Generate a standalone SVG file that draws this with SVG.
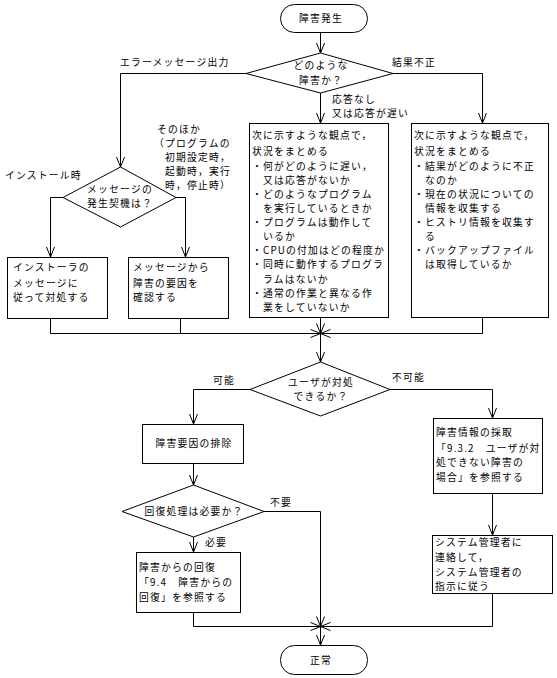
<svg xmlns="http://www.w3.org/2000/svg" width="557" height="678" viewBox="0 0 557 678">
<style>
text{font-family:"Noto Sans CJK JP","Liberation Sans",sans-serif;font-size:9.8px;letter-spacing:1.2px;fill:#000}
.s{fill:#fff;stroke:#000;stroke-width:1}
.c{fill:none;stroke:#000;stroke-width:1}
.m{text-anchor:middle}
</style>
<defs>
<marker id="a" markerUnits="userSpaceOnUse" markerWidth="12" markerHeight="10" refX="11" refY="5" orient="auto" overflow="visible">
<path d="M1,1 L11,5 L1,9" fill="none" stroke="#000" stroke-width="1"/>
</marker>
</defs>
<rect width="557" height="678" fill="#fff"/>
<g id="connectors">
<path class="c" d="M320.5,32 V53" marker-end="url(#a)"/>
<path class="c" d="M246,73.5 H120.5 V167" marker-end="url(#a)"/>
<path class="c" d="M393,73.5 H482.5 V123" marker-end="url(#a)"/>
<path class="c" d="M320.5,93 V123" marker-end="url(#a)"/>
<path class="c" d="M63,197.5 H50.5 V257" marker-end="url(#a)"/>
<path class="c" d="M176,197.5 H185.5 V257" marker-end="url(#a)"/>
<path class="c" d="M180.5,319 V333.5"/>
<path class="c" d="M50.5,319 V333.5 H320.5" marker-end="url(#a)"/>
<path class="c" d="M482.5,318 V333.5 H320.5" marker-end="url(#a)"/>
<path class="c" d="M320.5,318 V333.5" marker-end="url(#a)"/>
<path class="c" d="M320.5,333.5 V362" marker-end="url(#a)"/>
<path class="c" d="M250,389.5 H193.5 V424" marker-end="url(#a)"/>
<path class="c" d="M390,389.5 H492.5 V418" marker-end="url(#a)"/>
<path class="c" d="M193.5,463 V485" marker-end="url(#a)"/>
<path class="c" d="M193.5,537 V552" marker-end="url(#a)"/>
<path class="c" d="M264,511.5 H320.5 V626.5" marker-end="url(#a)"/>
<path class="c" d="M193.5,612 V626.5 H320.5" marker-end="url(#a)"/>
<path class="c" d="M492.5,493 V535" marker-end="url(#a)"/>
<path class="c" d="M492.5,593 V626.5 H320.5" marker-end="url(#a)"/>
<path class="c" d="M320.5,626.5 V645" marker-end="url(#a)"/>
<text x="120" y="66">エラーメッセージ出力</text>
<text x="392" y="66">結果不正</text>
<text x="332" y="103">応答なし</text>
<text x="332" y="117">又は応答が遅い</text>
<text x="157" y="133">そのほか</text>
<text x="154" y="147">（プログラムの</text>
<text x="165" y="161">初期設定時，</text>
<text x="165" y="175">起動時，実行</text>
<text x="165" y="189">時，停止時）</text>
<text x="5" y="179">インストール時</text>
<text x="213" y="384">可能</text>
<text x="392" y="381">不可能</text>
<text x="270" y="506">不要</text>
<text x="205" y="546">必要</text>
</g>
<g id="start">
<rect class="s" x="280.5" y="4.5" width="87" height="28" rx="14" ry="14"/>
<text class="m" x="321" y="22">障害発生</text>
</g>
<g id="d1">
<polygon class="s" points="320.5,53 393,73.5 320.5,93 246,73.5"/>
<text class="m" x="321" y="69">どのような</text>
<text class="m" x="321" y="84">障害か？</text>
</g>
<g id="d2">
<polygon class="s" points="120.5,167 176,197.5 120.5,227 63,197.5"/>
<text class="m" x="120" y="193">メッセージの</text>
<text class="m" x="120" y="207">発生契機は？</text>
</g>
<g id="b1">
<rect class="s" x="7.5" y="257.5" width="100" height="61"/>
<text x="13" y="271">インストーラの</text>
<text x="13" y="287">メッセージに</text>
<text x="13" y="301">従って対処する</text>
</g>
<g id="b2">
<rect class="s" x="128.5" y="257.5" width="100" height="61"/>
<text x="133" y="271">メッセージから</text>
<text x="133" y="287">障害の要因を</text>
<text x="133" y="301">確認する</text>
</g>
<g id="b3">
<rect class="s" x="249.5" y="123.5" width="139" height="194"/>
<text x="252" y="139">次に示すような観点で，</text>
<text x="252" y="155">状況をまとめる</text>
<text x="252" y="170">・何がどのように遅い，</text>
<text x="263" y="184">又は応答がないか</text>
<text x="252" y="198">・どのようなプログラム</text>
<text x="263" y="212">を実行しているときか</text>
<text x="252" y="226">・プログラムは動作して</text>
<text x="263" y="240">いるか</text>
<text x="252" y="254">・CPUの付加はどの程度か</text>
<text x="252" y="268">・同時に動作するプログラ</text>
<text x="263" y="283">ラムはないか</text>
<text x="252" y="297">・通常の作業と異なる作</text>
<text x="263" y="311">業をしていないか</text>
</g>
<g id="b4">
<rect class="s" x="411.5" y="123.5" width="137" height="194"/>
<text x="414" y="139">次に示すような観点で，</text>
<text x="414" y="155">状況をまとめる</text>
<text x="414" y="170">・結果がどのように不正</text>
<text x="425" y="184">なのか</text>
<text x="414" y="198">・現在の状況についての</text>
<text x="425" y="212">情報を収集する</text>
<text x="414" y="226">・ヒストリ情報を収集す</text>
<text x="425" y="240">る</text>
<text x="414" y="254">・バックアップファイル</text>
<text x="425" y="268">は取得しているか</text>
</g>
<g id="d3">
<polygon class="s" points="320.5,362 390,389.5 320.5,416 250,389.5"/>
<text class="m" x="321" y="386">ユーザが対処</text>
<text class="m" x="321" y="400">できるか？</text>
</g>
<g id="b5">
<rect class="s" x="142.5" y="424.5" width="101" height="39"/>
<text class="m" x="194" y="447">障害要因の排除</text>
</g>
<g id="b6">
<rect class="s" x="433.5" y="418.5" width="109" height="75"/>
<text x="436" y="436">障害情報の採取</text>
<text x="436" y="452">「9.3.2　ユーザが対</text>
<text x="436" y="466">処できない障害の</text>
<text x="436" y="481">場合」を参照する</text>
</g>
<g id="d4">
<polygon class="s" points="193.5,485 264,511.5 193.5,537 122,511.5"/>
<text class="m" x="194" y="515">回復処理は必要か？</text>
</g>
<g id="b7">
<rect class="s" x="136.5" y="552.5" width="104" height="60"/>
<text x="139" y="571">障害からの回復</text>
<text x="139" y="586">「9.4　障害からの</text>
<text x="139" y="601">回復」を参照する</text>
</g>
<g id="b8">
<rect class="s" x="432.5" y="535.5" width="120" height="58"/>
<text x="435" y="546">システム管理者に</text>
<text x="435" y="561">連絡して，</text>
<text x="435" y="576">システム管理者の</text>
<text x="435" y="590">指示に従う</text>
</g>
<g id="end">
<rect class="s" x="280.5" y="645.5" width="87" height="29" rx="14" ry="14"/>
<text class="m" x="321" y="664">正常</text>
</g>
</svg>
